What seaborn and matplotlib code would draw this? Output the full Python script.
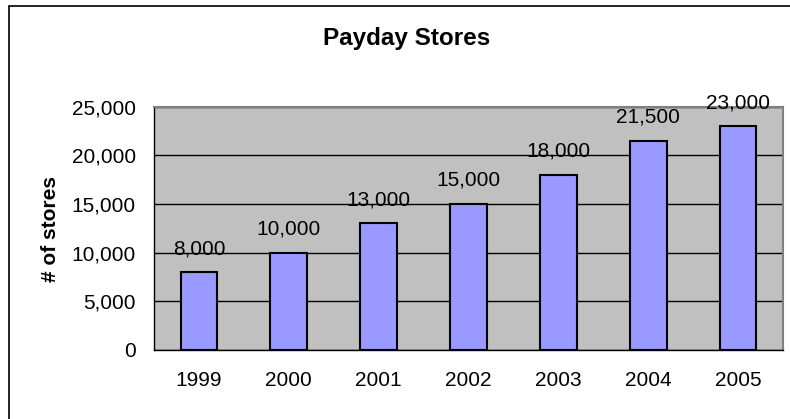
import matplotlib
matplotlib.use('Agg')
import matplotlib.pyplot as plt
import matplotlib.ticker as mticker
import seaborn as sns
import pandas as pd
from matplotlib.patches import Rectangle

# 데이터
years = ['1999', '2000', '2001', '2002', '2003', '2004', '2005']
stores = [8000, 10000, 13000, 15000, 18000, 21500, 23000]

df = pd.DataFrame({'year': years, 'stores': stores})

sns.set_style('white')
plt.rcParams['font.family'] = ['Liberation Sans', 'DejaVu Sans']
plt.rcParams['text.color'] = 'black'
plt.rcParams['xtick.color'] = 'black'
plt.rcParams['ytick.color'] = 'black'
plt.rcParams['xtick.labelcolor'] = 'black'
plt.rcParams['ytick.labelcolor'] = 'black'

fig = plt.figure(figsize=(7.9, 4.19), dpi=100)
ax = fig.add_axes([0.195, 0.165, 0.796, 0.580])

sns.barplot(data=df, x='year', y='stores', color='#9999FF', saturation=1,
            width=0.41, edgecolor='black', linewidth=1.5, ax=ax, zorder=3)

ax.set_facecolor('#C0C0C0')
ax.set_ylim(0, 25000)
ax.set_xlim(-0.5, 6.5)
ax.yaxis.set_major_locator(mticker.MultipleLocator(5000))
ax.yaxis.set_major_formatter(mticker.StrMethodFormatter('{x:,.0f}'))
ax.grid(axis='y', color='black', linewidth=1, zorder=1)
ax.set_axisbelow(True)

# x축 눈금은 구간 경계에
ax.set_xticks([i - 0.5 for i in range(len(years) + 1)], minor=False)
ax.set_xticklabels([])
ax.set_xticks(range(len(years)), minor=True)
ax.set_xticklabels(years, minor=True)
ax.tick_params(axis='x', which='major', length=6, width=1, color='black', direction='out')
ax.tick_params(axis='x', which='minor', length=0, pad=15, labelsize=15, labelcolor='black')
ax.tick_params(axis='y', length=6, width=1, color='black', direction='out', labelsize=15, pad=7,
               labelcolor='black')

for s in ['top', 'right']:
    ax.spines[s].set_color('#808080')
    ax.spines[s].set_linewidth(1.5)
for s in ['left', 'bottom']:
    ax.spines[s].set_color('black')
    ax.spines[s].set_linewidth(1)

# 막대 위 값 표시
for i, v in enumerate(stores):
    ax.annotate(f'{v:,}', (i, v), xytext=(0, 13), textcoords='offset points', color='black',
                ha='center', va='baseline', fontsize=15, zorder=4, annotation_clip=False)

ax.set_xlabel('')
ax.set_ylabel('')
fig.text(50 / 790, 1 - 229.5 / 419, '# of stores', rotation=90, ha='center', va='center',
         fontsize=15, fontweight='bold', color='black')

fig.text(407 / 790, 1 - 38 / 419, 'Payday Stores', ha='center', va='center', fontsize=17.5,
         fontweight='bold', color='black')

# 차트 테두리
fig.patches.append(Rectangle((9 / 790, -0.05), 1.05, 1.05 - 6 / 419, transform=fig.transFigure,
                             fill=False, edgecolor='black', linewidth=1.2))

fig.savefig('out.png', dpi=100)
